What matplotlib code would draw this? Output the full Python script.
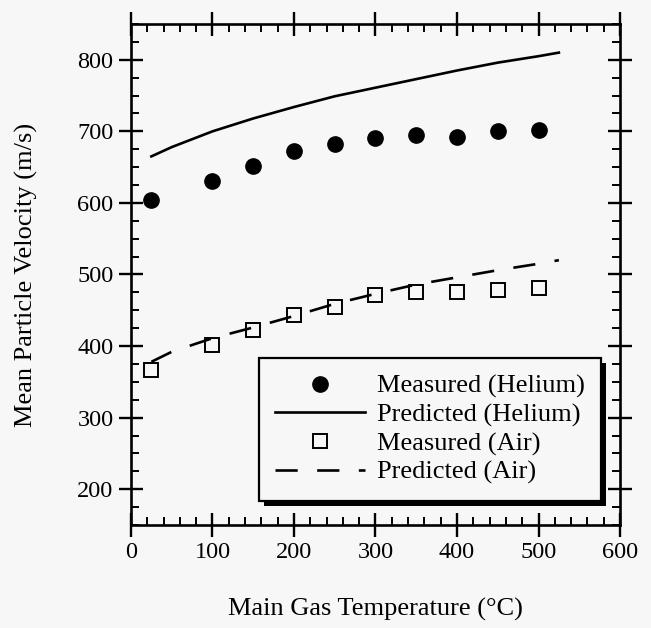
import matplotlib
matplotlib.use('Agg')
import matplotlib.pyplot as plt
from matplotlib.patches import Rectangle
from matplotlib.ticker import MultipleLocator

plt.rcParams['font.family'] = ['Liberation Serif', 'DejaVu Serif']
plt.rcParams['lines.scale_dashes'] = False

# measured points (main gas temperature, degC)
temp_meas = [25, 100, 150, 200, 250, 300, 350, 400, 450, 500]
vel_helium_meas = [604, 631, 652, 672, 683, 691, 695, 692, 700, 702]
vel_air_meas = [366, 401, 423, 443, 455, 472, 476, 475, 478, 481]

# predicted curves
temp_pred = [25, 50, 100, 150, 200, 250, 300, 350, 400, 450, 500, 525]
vel_helium_pred = [665, 678, 700, 718, 734, 749, 761, 773, 785, 796, 805, 810]
vel_air_pred = [378, 392, 411, 426, 442, 459, 473, 486, 496, 506, 515, 520]

BG = '#f7f7f7'

fig = plt.figure(figsize=(6.51, 6.28), dpi=100, facecolor=BG)
ax = fig.add_axes([0.2012, 0.164, 0.7512, 0.7978], facecolor=BG)

ax.plot(temp_meas, vel_helium_meas, 'o', color='black', markersize=11,
        label='Measured (Helium)', clip_on=False)
ax.plot(temp_pred, vel_helium_pred, '-', color='black', lw=1.9,
        label='Predicted (Helium)')
ax.plot(temp_meas, vel_air_meas, 's', mfc='none', mec='black', mew=1.4,
        markersize=10.5, label='Measured (Air)')
ax.plot(temp_pred, vel_air_pred, color='black', lw=1.9, dashes=[16, 14],
        label='Predicted (Air)')

ax.set_xlim(0, 600)
ax.set_ylim(150, 850)
ax.xaxis.set_major_locator(MultipleLocator(100))
ax.xaxis.set_minor_locator(MultipleLocator(20))
ax.yaxis.set_major_locator(MultipleLocator(100))
ax.yaxis.set_minor_locator(MultipleLocator(25))
ax.set_yticks([200, 300, 400, 500, 600, 700, 800])

ax.tick_params(which='major', direction='inout', length=17, width=1.7,
               top=True, right=True, labelsize=17.5, pad=4)
ax.tick_params(which='minor', direction='in', length=6, width=1.4,
               top=True, right=True)
for s in ax.spines.values():
    s.set_linewidth(1.9)

ax.set_xlabel('Main Gas Temperature (°C)', fontsize=19)
ax.set_ylabel('Mean Particle Velocity (m/s)', fontsize=19)
ax.xaxis.set_label_coords(0.5, -0.145)
ax.yaxis.set_label_coords(-0.19, 0.5)

leg = ax.legend(loc='upper left', bbox_to_anchor=(0.262, 0.333),
                borderaxespad=0, fontsize=19, handlelength=3.4,
                handletextpad=0.45, labelspacing=0.18, borderpad=0.62,
                numpoints=1, fancybox=False, framealpha=1,
                edgecolor='black', facecolor=BG)
leg.get_frame().set_linewidth(1.6)
leg.set_zorder(5)

# solid drop shadow behind the legend box
fig.canvas.draw()
bb = leg.get_frame().get_window_extent(fig.canvas.get_renderer())
ax.add_patch(Rectangle((bb.x0 + 5, bb.y0 - 5), bb.width, bb.height,
                       transform=None, facecolor='black', edgecolor='none',
                       clip_on=False, zorder=4.9))

fig.savefig('out.png', dpi=100, facecolor=BG)
